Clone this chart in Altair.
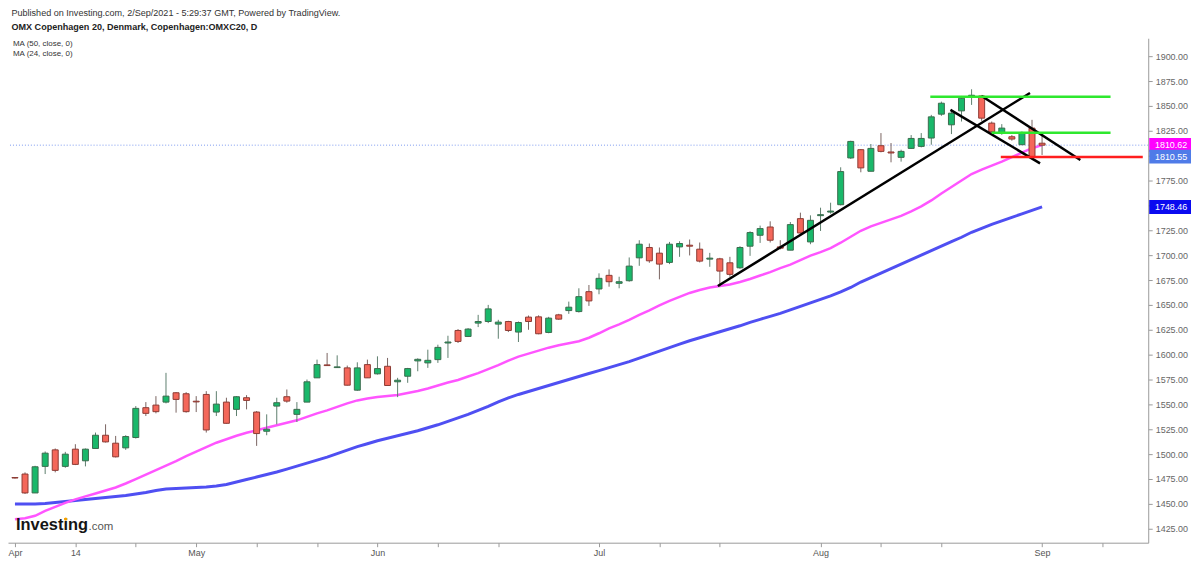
import altair as alt
import pandas as pd
import numpy as np

# ---------------- data ----------------
opens = [1476.5, 1480, 1461, 1487.7, 1504.3, 1487.7, 1505, 1493.3, 1505.7, 1519,
         1511, 1506.3, 1516.7, 1546.7, 1549.3, 1552.3, 1561.7, 1560.7, 1553.2, 1560,
         1542.3, 1552.3, 1545, 1556.7, 1542.3, 1523, 1548.3, 1557.7, 1540, 1552.3,
         1576.7, 1589.7, 1587, 1586.7, 1564.3, 1590, 1580.7, 1588.3, 1572.7, 1578.3,
         1593.7, 1591.7, 1595, 1611.7, 1624.3, 1618.3, 1631.7, 1633.3, 1630.7, 1633.3,
         1622.7, 1637.7, 1638, 1622.3, 1640, 1644.3, 1643.3, 1663.3, 1666, 1679.7,
         1671.7, 1674.3, 1697.3, 1707.7, 1702, 1692.7, 1708.3, 1710, 1706, 1696,
         1696.3, 1692.3, 1687.3, 1709, 1720, 1728.3, 1708.3, 1705, 1736.7, 1713.3,
         1739.7, 1743.3, 1750.7, 1797.7, 1806, 1784.3, 1810, 1803.7, 1798.3, 1807.3,
         1809.3, 1817.7, 1841.7, 1831, 1845, 1860, 1860, 1832.7, 1822.3, 1819,
         1811, 1827.7, 1812.5]
highs = [1477, 1481.7, 1488.3, 1502.7, 1505.7, 1502.3, 1510, 1505.7, 1521.7, 1530,
         1518.3, 1519, 1548.3, 1552.3, 1558.3, 1581.7, 1562.3, 1562.3, 1558.3, 1563.3,
         1563.3, 1556.7, 1558.3, 1559.3, 1543.3, 1540, 1556.7, 1565, 1552.3, 1575,
         1595, 1601.7, 1599.3, 1589, 1592.3, 1595, 1598.3, 1596.7, 1576.7, 1586.7,
         1596.3, 1605, 1610, 1619, 1625.7, 1626.7, 1640, 1650, 1635, 1634,
         1633.3, 1639.3, 1639.5, 1638, 1641, 1653.3, 1666.7, 1670, 1681.7, 1685.7,
         1678.3, 1697.7, 1715, 1711.7, 1707.7, 1713.3, 1714, 1715.7, 1712.7, 1702.3,
         1697.3, 1698.3, 1709, 1724, 1729.7, 1734, 1715, 1733.3, 1742.7, 1740,
         1747.7, 1752.7, 1788.3, 1815, 1806.7, 1811.7, 1822.7, 1812.7, 1806, 1820.7,
         1822.7, 1841, 1854.3, 1846.7, 1860, 1866.7, 1861, 1834.3, 1831.7, 1820.7,
         1824.3, 1836, 1820]
lows = [1475.5, 1460, 1461, 1480, 1481.7, 1486.3, 1489, 1487.7, 1505.7, 1511.7,
        1496.7, 1504.3, 1515.7, 1538.3, 1541, 1551, 1541.7, 1541.7, 1542.3, 1521.7,
        1538.3, 1530.7, 1538.3, 1545, 1508.3, 1519, 1530, 1551.7, 1532.3, 1552.3,
        1576.7, 1589, 1586.7, 1569, 1563.7, 1576.7, 1580, 1569, 1557.3, 1571.7,
        1583.3, 1586.7, 1591.7, 1596.7, 1611.7, 1617.7, 1627.7, 1631.7, 1616, 1622.7,
        1612.7, 1625, 1620.5, 1621.5, 1635, 1641, 1642.3, 1649, 1660.7, 1668.3,
        1666.7, 1673.3, 1689.3, 1692.3, 1675.7, 1691, 1698.3, 1699.7, 1692.7, 1688.3,
        1668.3, 1678.3, 1686.3, 1699.3, 1712.3, 1712.7, 1705.7, 1705, 1721.7, 1711,
        1724.3, 1741.7, 1750, 1796.7, 1783.3, 1784.3, 1803.3, 1793.3, 1794, 1806.7,
        1808.3, 1811, 1840, 1821.7, 1834.3, 1851, 1835, 1822.7, 1821, 1815,
        1810.7, 1798.3, 1800.7]
closes = [1476, 1461, 1487.3, 1501, 1483.7, 1500, 1489.7, 1505, 1519, 1512.3,
          1497.3, 1517.7, 1546, 1541, 1542.7, 1558.3, 1555, 1542.7, 1552.5, 1524.3,
          1550.3, 1531, 1557.7, 1554, 1520.7, 1525, 1551.7, 1553.3, 1545, 1572.7,
          1590, 1589, 1587.7, 1569.3, 1586.7, 1576.7, 1586, 1569, 1574.3, 1586,
          1595.3, 1594.3, 1607.3, 1612.7, 1613.3, 1625.7, 1633.3, 1646, 1632.7, 1624.3,
          1632.3, 1633.3, 1621, 1636.7, 1635.7, 1647.7, 1658.3, 1654, 1676.7, 1673.3,
          1673.3, 1689, 1711, 1694.3, 1691, 1711, 1711.7, 1709, 1694, 1697,
          1684, 1680.7, 1707.7, 1722.7, 1726.7, 1715, 1707, 1730.7, 1722.3, 1735,
          1740.7, 1744.3, 1784, 1814.3, 1787.7, 1807.3, 1804.3, 1802.7, 1804.3, 1817.3,
          1817.3, 1839, 1852.7, 1842.7, 1857.7, 1860.7, 1837.7, 1824, 1827.7, 1816.7,
          1823.3, 1799, 1810.55]

ma24 = [1434.5, 1435.5, 1438, 1443, 1447, 1451, 1454.5, 1457.5, 1460.5, 1463.5,
        1466.5, 1470.5, 1475, 1479.5, 1484, 1488.5, 1493, 1498, 1502.5, 1507,
        1511.5, 1515, 1518.5, 1521.5, 1524, 1526.5, 1529, 1531.5, 1534, 1537.5,
        1541, 1544, 1547.5, 1551, 1554, 1556, 1557.5, 1558.5, 1559.5, 1561.5,
        1563.5, 1566, 1569, 1572, 1574.5, 1578, 1581.5, 1585.5, 1589.5, 1594,
        1598, 1601, 1604, 1607, 1609.5, 1611.5, 1613.5, 1617, 1621.5, 1626.5,
        1630.5, 1635, 1640, 1644.5, 1649.5, 1654, 1658, 1662, 1665, 1667.5,
        1669, 1670.5, 1673, 1676, 1679.5, 1683, 1687, 1690.5, 1695, 1699.5,
        1703, 1707, 1712.5, 1718.5, 1724.5, 1729, 1732.5, 1736, 1739.5, 1744,
        1749, 1755, 1762, 1768.5, 1775, 1781.5, 1786, 1790, 1794, 1798.5,
        1803, 1807.5, 1810.62]
ma50 = [1450, 1450, 1450, 1450.5, 1451.5, 1452.5, 1453.5, 1454.5, 1455.5, 1456.5,
        1457.5, 1458.5, 1460, 1461.5, 1463.5, 1465, 1465.5, 1466, 1466.5, 1467,
        1468, 1469.5, 1472, 1474.5, 1477, 1479.5, 1482, 1485, 1488, 1491,
        1494, 1497, 1500.5, 1504, 1507.5, 1510.5, 1513.5, 1516, 1518.5, 1521,
        1523.5, 1526.5, 1529.5, 1533, 1536.5, 1540, 1544, 1548, 1552.5, 1556.5,
        1560, 1563, 1566, 1569, 1572, 1575, 1578, 1581, 1584, 1587,
        1590, 1593, 1596.5, 1600, 1603.5, 1607, 1610.5, 1614, 1617, 1620,
        1623, 1626, 1629, 1632.5, 1635.5, 1638.5, 1641.5, 1645, 1648.5, 1652,
        1655.5, 1659, 1663, 1667.5, 1673, 1677.5, 1682, 1686.5, 1691, 1695.5,
        1700, 1704.5, 1709, 1713.5, 1718, 1723, 1727, 1731, 1734.5, 1738,
        1741.5, 1745, 1748.46]

x_tick_idx = [0, 6, 12, 18, 24, 30, 36, 42, 48, 58, 64, 70, 80, 86, 92, 102, 108]
x_tick_text = {0: "Apr", 6: "14", 18: "May", 36: "Jun", 58: "Jul", 80: "Aug", 102: "Sep"}
y_ticks = list(range(1425, 1901, 25))

# drawn trend / level lines (bar index, price)
seg_x1 = [69.8, 92.9, 96.0, 90.9, 97.0, 97.9]
seg_y1 = [1669, 1846, 1860, 1859.3, 1823, 1798.7]
seg_x2 = [100.8, 101.8, 105.8, 108.8, 108.8, 112.0]
seg_y2 = [1863, 1792.3, 1795.7, 1859.3, 1823, 1798.7]
seg_col = ["#000000", "#000000", "#000000", "#2ee82e", "#2ee82e", "#ff1e1e"]

last_values = [1810.62, 1810.55, 1748.46]
last_texts = ["1810.62", "1810.55", "1748.46"]
last_colors = ["#ff00ff", "#4f7be8", "#0a0af0"]

header1 = "Published on Investing.com, 2/Sep/2021 - 5:29:37 GMT, Powered by TradingView."
header2 = "OMX Copenhagen 20, Denmark, Copenhagen:OMXC20, D"
legend1 = "MA (50, close, 0)"
legend2 = "MA (24, close, 0)"

FONT = "Liberation Sans"

# ---------------- frames ----------------
n = len(opens)
cdf = pd.DataFrame({"i": list(range(n)), "o": opens, "h": highs, "l": lows, "c": closes})
cdf["dir"] = np.where(cdf["c"] >= cdf["o"], "up", "down")
madf = pd.DataFrame({"i": list(range(n)), "ma24": ma24, "ma50": ma50})
segdf = pd.DataFrame({"x1": seg_x1, "y1": seg_y1, "x2": seg_x2, "y2": seg_y2, "col": seg_col})

# ---------------- scales / axes ----------------
xs = alt.Scale(domain=[-0.196, 112.047], nice=False, zero=False)
ys = alt.Scale(domain=[1411, 1918], nice=False, zero=False)

label_expr = "".join(f"datum.value == {k} ? '{v}' : " for k, v in x_tick_text.items()) + "''"
xaxis = alt.Axis(values=x_tick_idx, labelExpr=label_expr, title=None, grid=False,
                 domainColor="#9a9a9a", tickColor="#9a9a9a", tickSize=4,
                 labelColor="#555555", labelFontSize=9, labelFont=FONT, labelPadding=2,
                 labelFlush=False, labelOverlap=False, zindex=0)
yaxis = alt.Axis(orient="right", values=y_ticks, format=".2f", title=None, grid=False,
                 domainColor="#9a9a9a", tickColor="#9a9a9a", tickSize=4,
                 labelColor="#666666", labelFontSize=9, labelFont=FONT, labelPadding=3,
                 labelOverlap=False, zindex=0)


def X(f):
    return alt.X(f"{f}:Q", scale=xs, axis=xaxis)


def Y(f):
    return alt.Y(f"{f}:Q", scale=ys, axis=yaxis)


dir_dom = ["up", "down"]

wicks = alt.Chart(cdf).mark_rule(strokeWidth=1).encode(
    x=X("i"), y=Y("l"), y2=alt.Y2("h"),
    color=alt.Color("dir:N", scale=alt.Scale(domain=dir_dom, range=["#5e7f6e", "#7a6461"]), legend=None),
)
bodies = alt.Chart(cdf).mark_bar(size=6, strokeWidth=1, orient="vertical").encode(
    x=X("i"), y=Y("o"), y2=alt.Y2("c"),
    fill=alt.Fill("dir:N", scale=alt.Scale(domain=dir_dom, range=["#19b86a", "#f4675a"]), legend=None),
    stroke=alt.Stroke("dir:N", scale=alt.Scale(domain=dir_dom, range=["#3b6b4e", "#8c3a33"]), legend=None),
)

line50 = alt.Chart(madf).mark_line(color="#4f4ff2", strokeWidth=3).encode(x=X("i"), y=Y("ma50"))
line24 = alt.Chart(madf).mark_line(color="#ff55ff", strokeWidth=2.5).encode(x=X("i"), y=Y("ma24"))

price_line = alt.Chart(pd.DataFrame({"v": [last_values[1]]})).mark_rule(
    color="#7d9af0", strokeDash=[1, 2], strokeWidth=1).encode(y=Y("v"))

segs = alt.Chart(segdf).mark_rule(strokeWidth=2.5).encode(
    x=X("x1"), y=Y("y1"), x2=alt.X2("x2"), y2=alt.Y2("y2"),
    color=alt.Color("col:N", scale=None),
)

layers = [line50, line24, price_line, wicks, bodies, segs]

# last-value boxes on the price axis
offsets = [0, 11.5, 0]
for v, t, col, off in zip(last_values, last_texts, last_colors, offsets):
    d = pd.DataFrame({"v": [v], "t": [t]})
    layers.append(alt.Chart(d).mark_tick(orient="horizontal", size=42, thickness=14, opacity=1,
                                         color=col, yOffset=off).encode(x=alt.value(1168), y=Y("v")))
    layers.append(alt.Chart(d).mark_text(color="white", fontSize=9, font=FONT, align="center",
                                         baseline="middle", yOffset=off).encode(
        x=alt.value(1169), y=Y("v"), text="t:N"))


def label(txt, x, y, size, weight="normal", color="#333333", baseline="middle"):
    return alt.Chart(pd.DataFrame({"t": [txt]})).mark_text(
        align="left", baseline=baseline, fontSize=size, fontWeight=weight, color=color, font=FONT
    ).encode(x=alt.value(x), y=alt.value(y), text="t:N")


layers += [
    label(header1, 3.5, -25, 9.1),
    label(header2, 3.5, -11, 9.1, weight="bold", color="#222222"),
    label(legend1, 5, 6, 8),
    label(legend2, 5, 15.5, 8),
    label("Investing", 8, 494, 16.5, weight="bold", color="#151515", baseline="alphabetic"),
    label(".com", 81, 494, 11.5, color="#555555", baseline="alphabetic"),
    alt.Chart(pd.DataFrame({"t": ["dot"]})).mark_point(filled=True, shape="circle", size=12,
                                                        color="#f5a000", opacity=1).encode(
        x=alt.value(58), y=alt.value(483.3)),
]

chart = alt.layer(*layers).properties(
    width=1146, height=507,
    autosize=alt.AutoSizeParams(type="none"),
    padding={"left": 0, "top": 29, "right": 44, "bottom": 18},
    background="white",
).configure_view(stroke=None)

chart.save("out.html", embed_options={"renderer": "svg", "actions": False})
